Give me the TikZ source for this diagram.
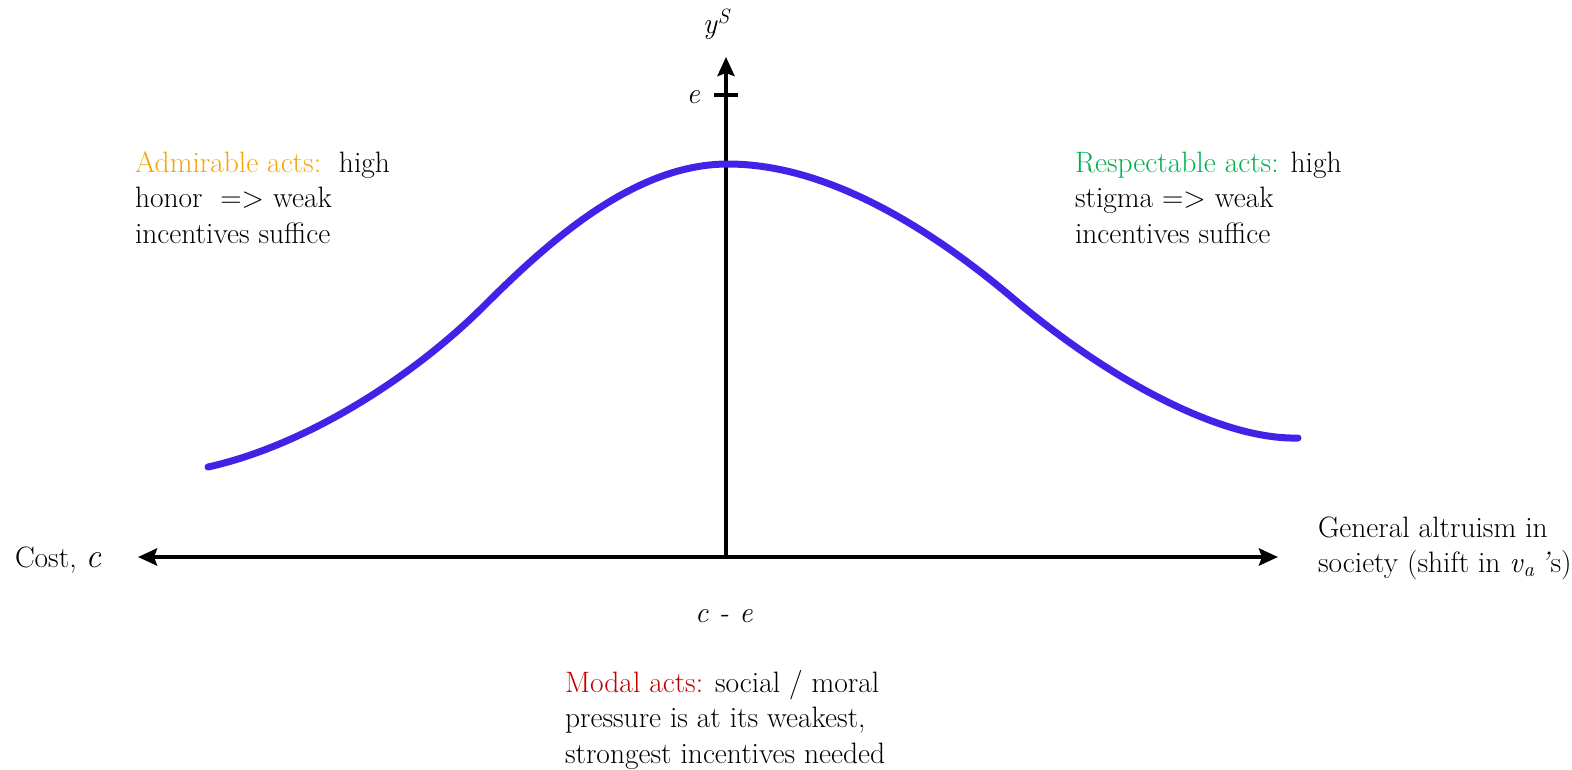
\documentclass[tikz,border=0pt]{standalone}
\usepackage{fontspec}
\usetikzlibrary{arrows.meta}
\definecolor{curveblue}{RGB}{66,34,230}
\definecolor{admorange}{RGB}{245,165,10}
\definecolor{resgreen}{RGB}{0,176,80}
\definecolor{modred}{RGB}{192,0,0}
\tikzset{
  axisline/.style={line width=4pt, -{Stealth[length=19pt,width=17pt,inset=3pt]}},
  tickline/.style={line width=3.5pt},
  curveline/.style={line width=7pt, curveblue, line cap=round},
  lbl/.style={inner sep=0pt, outer sep=0pt, font=\fontsize{29.5}{35.5}\selectfont},
}
\newcommand{\blocktext}[1]{\parbox[t]{460pt}{\raggedright #1}}
\begin{document}
\begin{tikzpicture}[x=1pt,y=-1pt]
\useasboundingbox (0,0) rectangle (1572,769);
\coordinate (O) at (726,557);
\coordinate (xl) at (138,557);
\coordinate (xr) at (1278,557);
\coordinate (yt) at (726,57);
\coordinate (tl) at (714,95);
\coordinate (tr) at (738,95);
\coordinate (c0) at (208,467);
\coordinate (c1) at (485,305);
\coordinate (c2) at (728,164);
\coordinate (c3) at (1015,300);
\coordinate (c4) at (1298,438);
% axes
\draw[axisline] (O) -- (xl);
\draw[axisline] (O) -- (xr);
\draw[axisline] (O) -- (yt);
\draw[tickline] (tl) -- (tr);
% curve
\draw[curveline] (c0) .. controls (303,446) and (410,380) .. (c1)
  .. controls (555,235) and (638,164) .. (c2)
  .. controls (830,164) and (935,232) .. (c3)
  .. controls (1105,376) and (1218,440) .. (c4);
% labels
\node[lbl, anchor=base] (ys) at (717,33) {\textit{y}\textsuperscript{\textit{S}}};
\node[lbl, anchor=base east] (elab) at (700,103) {\textit{e}};
\node[lbl, anchor=base west] (cost) at (15,567) {Cost, {\fontsize{34}{36}\selectfont\textit{c}}};
\node[lbl, anchor=base] (ce) at (724,622) {\textit{c - e}};
\node[lbl, anchor=base west] (gen) at (1318,537) {\blocktext{General altruism in\\society (shift in \textit{v}\textsubscript{\textit{a}}\,\textit{’}s)}};
\node[lbl, anchor=base west] (adm) at (135,172) {\blocktext{\textcolor{admorange}{Admirable acts:}\ \ high\\honor\ \ => weak\\incentives suffice}};
\node[lbl, anchor=base west] (res) at (1075,172) {\blocktext{\textcolor{resgreen}{Respectable acts:} high\\stigma => weak\\incentives suffice}};
\node[lbl, anchor=base west] (modal) at (565,692) {\blocktext{\textcolor{modred}{Modal acts:} social / moral\\pressure is at its weakest,\\strongest incentives needed}};
\end{tikzpicture}
\end{document}
